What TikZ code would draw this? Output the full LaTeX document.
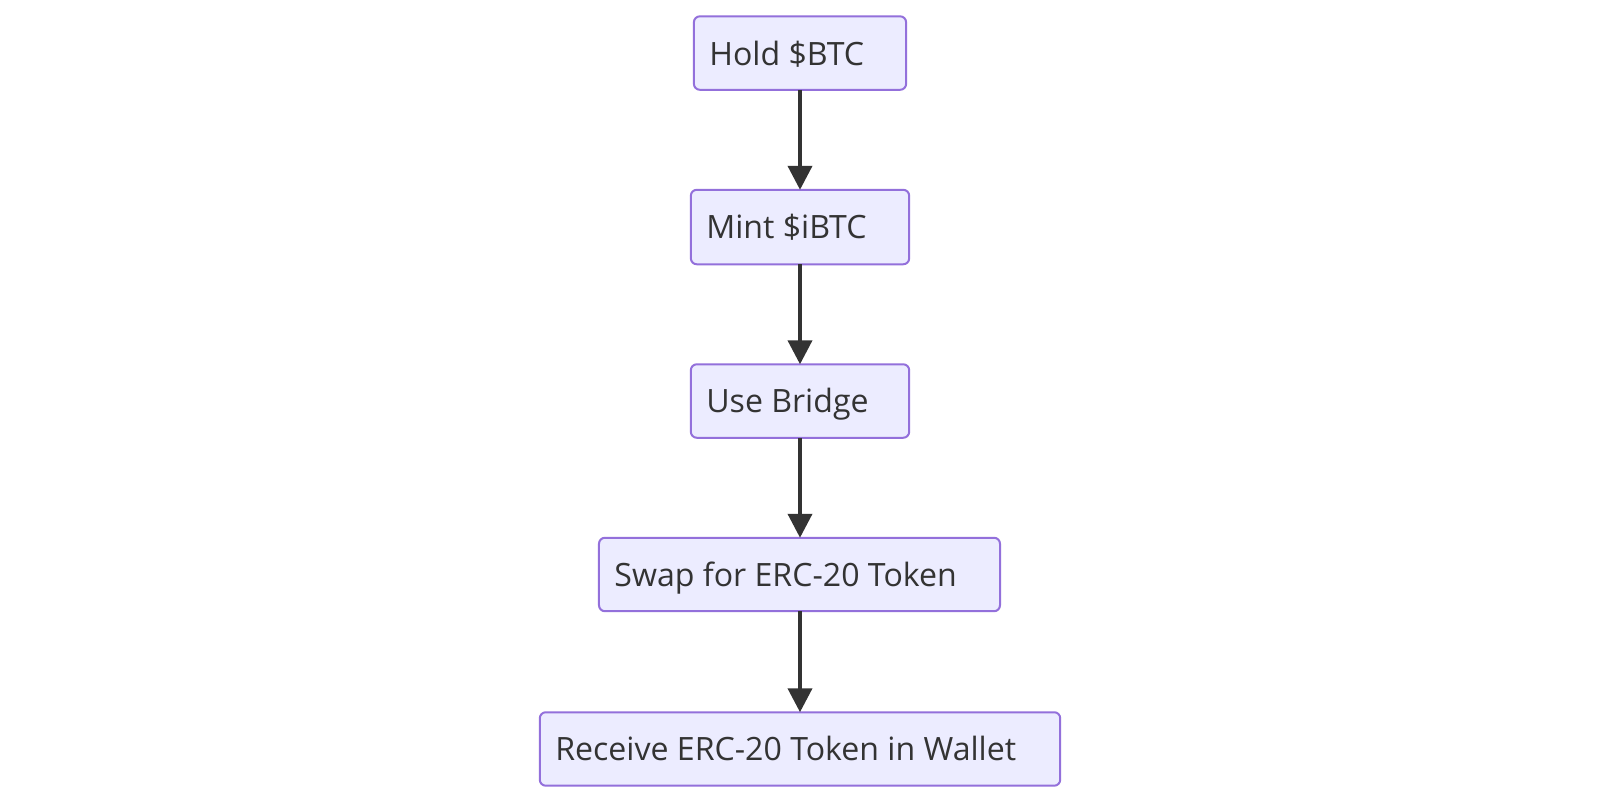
\documentclass[tikz,border=0pt]{standalone}
\usepackage{fontspec}
\setmainfont{Open Sans}
\usetikzlibrary{arrows.meta}
\definecolor{boxfill}{HTML}{ECECFF}
\definecolor{boxline}{HTML}{9370DB}
\definecolor{ink}{HTML}{333333}
\begin{document}
\begin{tikzpicture}[x=1.0204pt,y=-1.0204pt,
  flowbox/.style={draw=boxline,fill=boxfill,line width=2pt,rounded corners=6pt},
  lbl/.style={anchor=base west,inner sep=0pt,text=ink,font=\fontsize{32.1}{38}\selectfont},
  flow/.style={draw=ink,line width=4pt,-{Triangle[length=24pt,width=24pt]}}]
\useasboundingbox (0,0) rectangle (1568,786);
\fill[white] (0,0) rectangle (1568,786);
% boxes
\path[flowbox] (680,16) rectangle (888,88);
\path[flowbox] (677,186) rectangle (891,259);
\path[flowbox] (677,357) rectangle (891,429);
\path[flowbox] (587,527) rectangle (980,599);
\path[flowbox] (529,698) rectangle (1039,770);
\coordinate (n1b) at (784,88);
\coordinate (n2t) at (784,186);
\coordinate (n2b) at (784,259);
\coordinate (n3t) at (784,357);
\coordinate (n3b) at (784,429);
\coordinate (n4t) at (784,527);
\coordinate (n4b) at (784,599);
\coordinate (n5t) at (784,698);
\node[lbl] (t1) at (695,64) {Hold \$BTC};
\node[lbl] (t2) at (692,234) {Mint \$iBTC};
\node[lbl] (t3) at (692,404) {Use Bridge};
\node[lbl] (t4) at (602,575) {Swap for ERC-20 Token};
\node[lbl] (t5) at (544,745) {Receive ERC-20 Token in Wallet};
\draw[flow] (n1b) -- (n2t);
\draw[flow] (n2b) -- (n3t);
\draw[flow] (n3b) -- (n4t);
\draw[flow] (n4b) -- (n5t);
\end{tikzpicture}
\end{document}
